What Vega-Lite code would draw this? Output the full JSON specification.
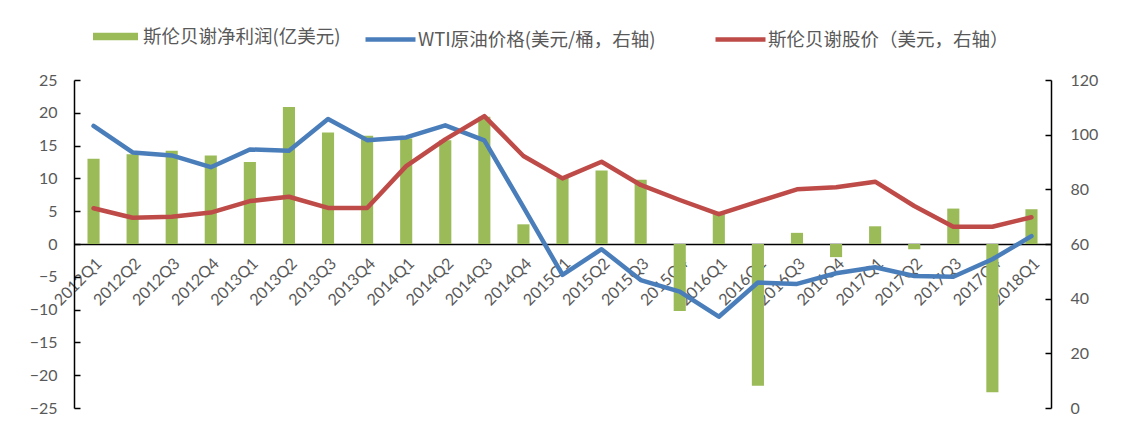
{
  "$schema": "https://vega.github.io/schema/vega-lite/v6.json",
  "width": 977,
  "height": 328,
  "autosize": {"type": "none"},
  "padding": {"left": 74, "top": 80, "right": 78, "bottom": 21},
  "background": "white",
  "config": {
    "view": {"stroke": null},
    "axis": {"labelFont": "Lato", "labelFontSize": 16, "labelColor": "#595959", "grid": false, "domainColor": "#000000", "domainWidth": 1.5, "tickColor": "#000000", "tickWidth": 1.5, "title": null},
    "legend": {"labelFont": "Noto Sans CJK SC", "labelFontSize": 18.5, "labelColor": "#595959", "labelLimit": 500, "title": null, "padding": 0}
  },
  "datasets": {
    "profit": [
      {"quarter": "2012Q1", "profit": 13.0},
      {"quarter": "2012Q2", "profit": 13.7},
      {"quarter": "2012Q3", "profit": 14.2},
      {"quarter": "2012Q4", "profit": 13.5},
      {"quarter": "2013Q1", "profit": 12.5},
      {"quarter": "2013Q2", "profit": 20.9},
      {"quarter": "2013Q3", "profit": 17.0},
      {"quarter": "2013Q4", "profit": 16.5},
      {"quarter": "2014Q1", "profit": 16.1},
      {"quarter": "2014Q2", "profit": 15.8},
      {"quarter": "2014Q3", "profit": 19.4},
      {"quarter": "2014Q4", "profit": 3.0},
      {"quarter": "2015Q1", "profit": 10.1},
      {"quarter": "2015Q2", "profit": 11.2},
      {"quarter": "2015Q3", "profit": 9.8},
      {"quarter": "2015Q4", "profit": -10.2},
      {"quarter": "2016Q1", "profit": 4.7},
      {"quarter": "2016Q2", "profit": -21.6},
      {"quarter": "2016Q3", "profit": 1.7},
      {"quarter": "2016Q4", "profit": -2.0},
      {"quarter": "2017Q1", "profit": 2.7},
      {"quarter": "2017Q2", "profit": -0.8},
      {"quarter": "2017Q3", "profit": 5.4},
      {"quarter": "2017Q4", "profit": -22.6},
      {"quarter": "2018Q1", "profit": 5.3}
    ],
    "lines": [
      {"quarter": "2012Q1", "series": "WTI原油价格(美元/桶，右轴)", "value": 103.2},
      {"quarter": "2012Q2", "series": "WTI原油价格(美元/桶，右轴)", "value": 93.5},
      {"quarter": "2012Q3", "series": "WTI原油价格(美元/桶，右轴)", "value": 92.4},
      {"quarter": "2012Q4", "series": "WTI原油价格(美元/桶，右轴)", "value": 88.1},
      {"quarter": "2013Q1", "series": "WTI原油价格(美元/桶，右轴)", "value": 94.6},
      {"quarter": "2013Q2", "series": "WTI原油价格(美元/桶，右轴)", "value": 94.1},
      {"quarter": "2013Q3", "series": "WTI原油价格(美元/桶，右轴)", "value": 105.7},
      {"quarter": "2013Q4", "series": "WTI原油价格(美元/桶，右轴)", "value": 98.0},
      {"quarter": "2014Q1", "series": "WTI原油价格(美元/桶，右轴)", "value": 99.0},
      {"quarter": "2014Q2", "series": "WTI原油价格(美元/桶，右轴)", "value": 103.4},
      {"quarter": "2014Q3", "series": "WTI原油价格(美元/桶，右轴)", "value": 97.9},
      {"quarter": "2014Q4", "series": "WTI原油价格(美元/桶，右轴)", "value": 73.5},
      {"quarter": "2015Q1", "series": "WTI原油价格(美元/桶，右轴)", "value": 48.7},
      {"quarter": "2015Q2", "series": "WTI原油价格(美元/桶，右轴)", "value": 58.1},
      {"quarter": "2015Q3", "series": "WTI原油价格(美元/桶，右轴)", "value": 46.8},
      {"quarter": "2015Q4", "series": "WTI原油价格(美元/桶，右轴)", "value": 42.6},
      {"quarter": "2016Q1", "series": "WTI原油价格(美元/桶，右轴)", "value": 33.4},
      {"quarter": "2016Q2", "series": "WTI原油价格(美元/桶，右轴)", "value": 45.9},
      {"quarter": "2016Q3", "series": "WTI原油价格(美元/桶，右轴)", "value": 45.4},
      {"quarter": "2016Q4", "series": "WTI原油价格(美元/桶，右轴)", "value": 49.3},
      {"quarter": "2017Q1", "series": "WTI原油价格(美元/桶，右轴)", "value": 51.5},
      {"quarter": "2017Q2", "series": "WTI原油价格(美元/桶，右轴)", "value": 48.3},
      {"quarter": "2017Q3", "series": "WTI原油价格(美元/桶，右轴)", "value": 48.0},
      {"quarter": "2017Q4", "series": "WTI原油价格(美元/桶，右轴)", "value": 54.4},
      {"quarter": "2018Q1", "series": "WTI原油价格(美元/桶，右轴)", "value": 62.9},
      {"quarter": "2012Q1", "series": "斯伦贝谢股价（美元，右轴）", "value": 73.1},
      {"quarter": "2012Q2", "series": "斯伦贝谢股价（美元，右轴）", "value": 69.6},
      {"quarter": "2012Q3", "series": "斯伦贝谢股价（美元，右轴）", "value": 70.0},
      {"quarter": "2012Q4", "series": "斯伦贝谢股价（美元，右轴）", "value": 71.5},
      {"quarter": "2013Q1", "series": "斯伦贝谢股价（美元，右轴）", "value": 75.7},
      {"quarter": "2013Q2", "series": "斯伦贝谢股价（美元，右轴）", "value": 77.3},
      {"quarter": "2013Q3", "series": "斯伦贝谢股价（美元，右轴）", "value": 73.2},
      {"quarter": "2013Q4", "series": "斯伦贝谢股价（美元，右轴）", "value": 73.2},
      {"quarter": "2014Q1", "series": "斯伦贝谢股价（美元，右轴）", "value": 88.5},
      {"quarter": "2014Q2", "series": "斯伦贝谢股价（美元，右轴）", "value": 98.3},
      {"quarter": "2014Q3", "series": "斯伦贝谢股价（美元，右轴）", "value": 106.8},
      {"quarter": "2014Q4", "series": "斯伦贝谢股价（美元，右轴）", "value": 92.2},
      {"quarter": "2015Q1", "series": "斯伦贝谢股价（美元，右轴）", "value": 84.0},
      {"quarter": "2015Q2", "series": "斯伦贝谢股价（美元，右轴）", "value": 90.1},
      {"quarter": "2015Q3", "series": "斯伦贝谢股价（美元，右轴）", "value": 81.6},
      {"quarter": "2015Q4", "series": "斯伦贝谢股价（美元，右轴）", "value": 76.1},
      {"quarter": "2016Q1", "series": "斯伦贝谢股价（美元，右轴）", "value": 70.9},
      {"quarter": "2016Q2", "series": "斯伦贝谢股价（美元，右轴）", "value": 75.5},
      {"quarter": "2016Q3", "series": "斯伦贝谢股价（美元，右轴）", "value": 80.0},
      {"quarter": "2016Q4", "series": "斯伦贝谢股价（美元，右轴）", "value": 80.8},
      {"quarter": "2017Q1", "series": "斯伦贝谢股价（美元，右轴）", "value": 82.8},
      {"quarter": "2017Q2", "series": "斯伦贝谢股价（美元，右轴）", "value": 73.9},
      {"quarter": "2017Q3", "series": "斯伦贝谢股价（美元，右轴）", "value": 66.3},
      {"quarter": "2017Q4", "series": "斯伦贝谢股价（美元，右轴）", "value": 66.3},
      {"quarter": "2018Q1", "series": "斯伦贝谢股价（美元，右轴）", "value": 69.8}
    ]
  },
  "encoding": {
    "x": {
      "field": "quarter", "type": "nominal", "sort": null,
      "scale": {"paddingInner": 0, "paddingOuter": 0},
      "axis": {"orient": "bottom", "offset": -164, "labelAngle": -45, "labelPadding": 11, "ticks": false, "domainWidth": 1.5, "labelFontSize": 16}
    }
  },
  "layer": [
    {
      "data": {"name": "profit"},
      "mark": {"type": "bar", "width": {"band": 0.31}},
      "encoding": {
        "y": {
          "field": "profit", "type": "quantitative",
          "scale": {"domain": [-25, 25], "nice": false, "zero": false},
          "axis": {"orient": "left", "values": [-25, -20, -15, -10, -5, 0, 5, 10, 15, 20, 25], "tickSize": -6, "labelPadding": 23}
        },
        "fill": {
          "datum": "斯伦贝谢净利润(亿美元)",
          "scale": {"range": ["#9BBB59"]},
          "legend": {
            "orient": "none", "legendX": 19, "legendY": -66, "direction": "horizontal",
            "symbolType": "M-1,-0.17H1V0.17H-1Z", "symbolSize": 2025, "symbolStrokeWidth": 0, "labelOffset": 5
          }
        }
      }
    },
    {
      "data": {"name": "lines"},
      "mark": {"type": "line", "strokeWidth": 4.5, "strokeCap": "round", "strokeJoin": "round"},
      "encoding": {
        "y": {
          "field": "value", "type": "quantitative",
          "scale": {"domain": [0, 120], "nice": false},
          "axis": {"orient": "right", "values": [0, 20, 40, 60, 80, 100, 120], "tickSize": -6, "labelPadding": 25}
        },
        "stroke": {
          "field": "series", "type": "nominal",
          "scale": {"domain": ["WTI原油价格(美元/桶，右轴)", "斯伦贝谢股价（美元，右轴）"], "range": ["#4A7EBB", "#BE4B48"]},
          "legend": {
            "orient": "none", "legendX": 289, "legendY": -68, "direction": "horizontal",
            "symbolType": "stroke", "symbolSize": 2500, "symbolStrokeWidth": 4.5, "labelOffset": 0, "columnPadding": 50
          }
        }
      }
    }
  ],
  "resolve": {"scale": {"y": "independent", "fill": "independent", "stroke": "independent"}}
}
